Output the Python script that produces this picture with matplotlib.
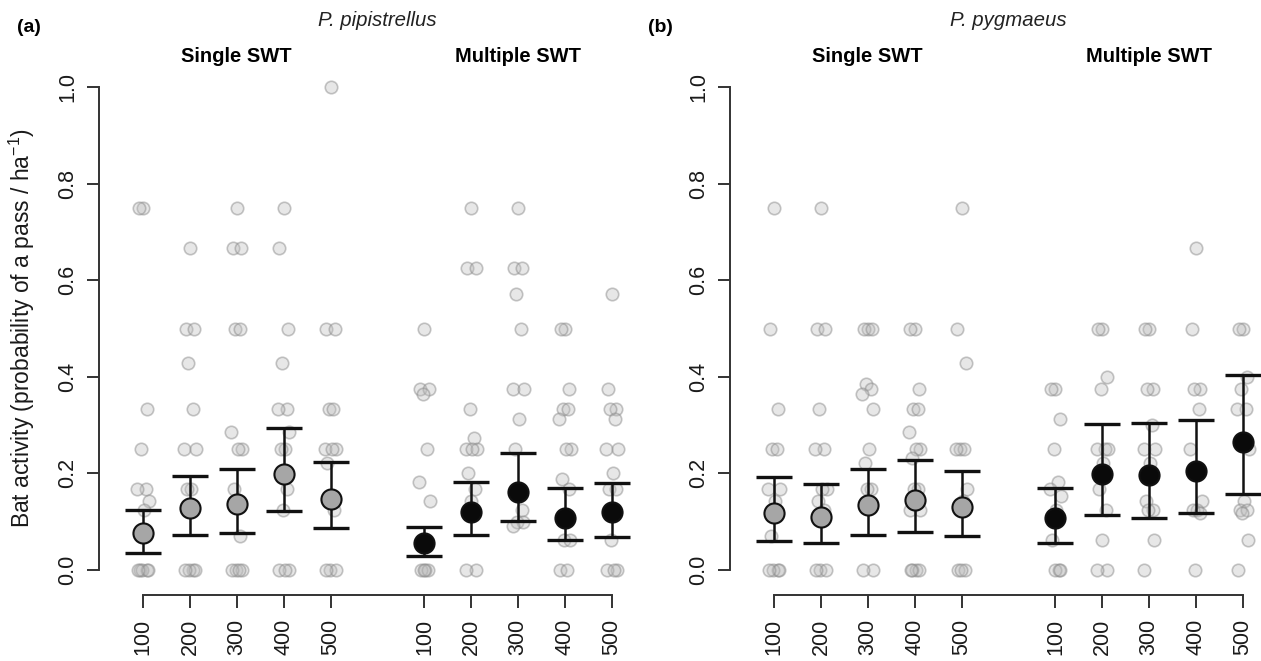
import matplotlib.pyplot as plt
import numpy as np

plt.rcParams["font.family"] = ["Liberation Sans", "DejaVu Sans"]
plt.rcParams["mathtext.fontset"] = "custom"
plt.rcParams["mathtext.rm"] = "Liberation Sans"
plt.rcParams["mathtext.it"] = "Liberation Sans:italic"

distances = [100, 200, 300, 400, 500]

# P. pipistrellus, single SWT
pip_single_pts = [
    [0.75, 0.75, 0.333, 0.25, 0.167, 0.167, 0.143, 0.125, 0, 0, 0, 0, 0],
    [0.667, 0.5, 0.5, 0.429, 0.333, 0.25, 0.25, 0.167, 0.167, 0, 0, 0, 0],
    [0.75, 0.667, 0.667, 0.5, 0.5, 0.286, 0.25, 0.25, 0.167, 0.071, 0, 0, 0, 0],
    [0.75, 0.667, 0.5, 0.429, 0.333, 0.333, 0.286, 0.25, 0.25, 0.167, 0.125, 0, 0, 0],
    [1.0, 0.5, 0.5, 0.333, 0.333, 0.25, 0.25, 0.25, 0.222, 0.125, 0, 0, 0],
]
pip_single_mean = [0.076, 0.128, 0.137, 0.198, 0.148]
pip_single_lo = [0.035, 0.072, 0.077, 0.122, 0.086]
pip_single_hi = [0.125, 0.194, 0.210, 0.295, 0.224]

# P. pipistrellus, multiple SWT
pip_multi_pts = [
    [0.5, 0.375, 0.375, 0.364, 0.25, 0.182, 0.143, 0, 0, 0, 0],
    [0.75, 0.625, 0.625, 0.333, 0.273, 0.25, 0.25, 0.25, 0.2, 0.167, 0.143, 0, 0],
    [0.75, 0.625, 0.625, 0.571, 0.5, 0.375, 0.375, 0.312, 0.25, 0.125, 0.1, 0.1, 0.091],
    [0.5, 0.5, 0.375, 0.333, 0.333, 0.312, 0.25, 0.25, 0.188, 0.167, 0.0625, 0.0625, 0, 0],
    [0.571, 0.375, 0.333, 0.333, 0.312, 0.25, 0.25, 0.2, 0.167, 0.167, 0.0625, 0, 0, 0],
]
pip_multi_mean = [0.055, 0.121, 0.162, 0.107, 0.121]
pip_multi_lo = [0.029, 0.072, 0.102, 0.062, 0.068]
pip_multi_hi = [0.090, 0.183, 0.243, 0.169, 0.181]

# P. pygmaeus, single SWT
pyg_single_pts = [
    [0.75, 0.5, 0.333, 0.25, 0.25, 0.167, 0.167, 0.143, 0.071, 0, 0, 0, 0],
    [0.75, 0.5, 0.5, 0.333, 0.25, 0.25, 0.167, 0.167, 0.143, 0.125, 0, 0, 0],
    [0.5, 0.5, 0.5, 0.385, 0.375, 0.364, 0.333, 0.25, 0.222, 0.167, 0.167, 0, 0],
    [0.5, 0.5, 0.375, 0.333, 0.333, 0.286, 0.25, 0.25, 0.231, 0.167, 0.167, 0.125, 0.125, 0, 0, 0, 0],
    [0.75, 0.5, 0.429, 0.25, 0.25, 0.25, 0.167, 0.143, 0, 0, 0],
]
pyg_single_mean = [0.117, 0.109, 0.135, 0.145, 0.131]
pyg_single_lo = [0.060, 0.055, 0.072, 0.078, 0.071]
pyg_single_hi = [0.193, 0.178, 0.210, 0.228, 0.206]

# P. pygmaeus, multiple SWT
pyg_multi_pts = [
    [0.375, 0.375, 0.312, 0.25, 0.182, 0.167, 0.154, 0.125, 0.0625, 0, 0, 0],
    [0.5, 0.5, 0.4, 0.375, 0.25, 0.25, 0.25, 0.222, 0.167, 0.125, 0.0625, 0, 0],
    [0.5, 0.5, 0.375, 0.375, 0.3, 0.25, 0.25, 0.222, 0.143, 0.125, 0.125, 0.0625, 0],
    [0.667, 0.5, 0.375, 0.375, 0.333, 0.25, 0.143, 0.125, 0.125, 0.118, 0],
    [0.5, 0.5, 0.4, 0.375, 0.333, 0.333, 0.25, 0.143, 0.125, 0.125, 0.118, 0.0625, 0],
]
pyg_multi_mean = [0.107, 0.198, 0.197, 0.205, 0.266]
pyg_multi_lo = [0.055, 0.114, 0.107, 0.119, 0.157]
pyg_multi_hi = [0.170, 0.302, 0.304, 0.311, 0.404]

# fixed horizontal spread for the raw points
JIT = 0.75 * np.array([0.0, -0.12, 0.12, -0.05, 0.08, -0.16, 0.16, 0.03, -0.09,
                       0.1, -0.02, 0.14, -0.14, 0.05, -0.07, 0.11, -0.11])

W, H = 1261, 661
fig = plt.figure(figsize=(W / 100, H / 100), dpi=100)

px_x = 46.9        # pixels per x unit
px_y = 483.0       # pixels per y unit
xlim = (0.0, 11.6)
ylim = (-0.06, 1.03)


def make_axes(x_first):
    left = (x_first - px_x) / W
    bottom = (H - (570 - ylim[0] * px_y)) / H
    ax = fig.add_axes([left, bottom, (xlim[1] - xlim[0]) * px_x / W,
                       (ylim[1] - ylim[0]) * px_y / H])
    ax.set_xlim(*xlim)
    ax.set_ylim(*ylim)
    return ax


def draw_panel(ax, groups, species, tag, ylabel=None):
    dark = "#333333"
    for side, (pts, mean, lo, hi, face) in enumerate(groups):
        pos = np.arange(1, 6) + side * 6
        for p, vals in zip(pos, pts):
            xs = p + JIT[:len(vals)]
            ax.scatter(xs, vals, s=80, facecolor=(0.74, 0.74, 0.74, 0.35),
                       edgecolor=(0.55, 0.55, 0.55, 0.5), linewidth=1.2, zorder=2)
        mean = np.array(mean)
        err = [mean - np.array(lo), np.array(hi) - mean]
        ax.errorbar(pos, mean, yerr=err, fmt="none", ecolor="#111111",
                    elinewidth=1.8, capsize=13, capthick=2.4, zorder=3)
        ax.scatter(pos, mean, s=210, facecolor=face, edgecolor="#111111",
                   linewidth=1.5, zorder=4)

    for s in ["top", "right"]:
        ax.spines[s].set_visible(False)
    ax.spines["left"].set_position(("data", 1 - 44 / px_x))
    ax.spines["left"].set_bounds(0, 1)
    ax.spines["bottom"].set_position(("data", -25 / px_y))
    ax.spines["bottom"].set_bounds(1, 11)
    for s in ["left", "bottom"]:
        ax.spines[s].set_color(dark)
        ax.spines[s].set_linewidth(1.4)

    ax.set_yticks(np.arange(0, 1.01, 0.2), [f"{v:.1f}" for v in np.arange(0, 1.01, 0.2)])
    ax.set_xticks(list(range(1, 6)) + list(range(7, 12)), [str(d) for d in distances] * 2)
    ax.tick_params(axis="both", length=9, width=1.4, color=dark, labelsize=15.5,
                   labelcolor="#1a1a1a")
    ax.tick_params(axis="y", pad=6)
    ax.tick_params(axis="x", pad=8)
    for lab in ax.get_yticklabels():
        lab.set_rotation(90)
        lab.set_va("center")
    for lab in ax.get_xticklabels():
        lab.set_rotation(90)
        lab.set_va("top")

    ax.text(3, (570 - 57) / px_y, "Single SWT", ha="center", va="center",
            fontsize=14.5, fontweight="bold")
    ax.text(9, (570 - 57) / px_y, "Multiple SWT", ha="center", va="center",
            fontsize=14.5, fontweight="bold")
    ax.text(6, (570 - 20) / px_y, species, ha="center", va="center",
            fontsize=14.7, style="italic", color="#222222")
    ax.text(1 - 126 / px_x, (570 - 27) / px_y, tag, ha="left", va="center",
            fontsize=14, fontweight="bold")
    if ylabel:
        ax.text(1 - 121 / px_x, 0.5, ylabel, rotation=90, ha="center", va="center",
                fontsize=16.5, color="#1a1a1a")


ax1 = make_axes(143)
draw_panel(ax1,
           [(pip_single_pts, pip_single_mean, pip_single_lo, pip_single_hi, "#a6a6a6"),
            (pip_multi_pts, pip_multi_mean, pip_multi_lo, pip_multi_hi, "#0a0a0a")],
           "P. pipistrellus", "(a)",
           ylabel=r"Bat activity (probability of a pass / ha$^{-1}$)")

ax2 = make_axes(774)
draw_panel(ax2,
           [(pyg_single_pts, pyg_single_mean, pyg_single_lo, pyg_single_hi, "#a6a6a6"),
            (pyg_multi_pts, pyg_multi_mean, pyg_multi_lo, pyg_multi_hi, "#0a0a0a")],
           "P. pygmaeus", "(b)")

fig.savefig("out.png", dpi=100)
